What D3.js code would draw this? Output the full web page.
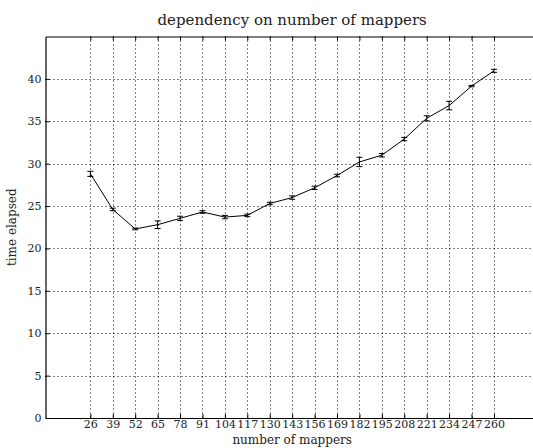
<!DOCTYPE html>
<html>
<head>
<meta charset="utf-8">
<script src="https://cdn.jsdelivr.net/npm/d3@7"></script>
<style>
  html, body { margin: 0; padding: 0; background: #fff; }
  svg { display: block; font-family: "DejaVu Serif", serif; }
</style>
</head>
<body>
<svg id="chart" width="533" height="448"></svg>
<script>
// ---- data ----
const mappers = [26, 39, 52, 65, 78, 91, 104, 117, 130, 143, 156, 169, 182, 195, 208, 221, 234, 247, 260];
const timeElapsed = [28.8, 24.6, 22.3, 22.8, 23.55, 24.3, 23.7, 23.9, 25.3, 26.0, 27.15, 28.6, 30.2, 31.0, 32.9, 35.35, 36.85, 39.15, 40.95];
const timeError = [0.3, 0.15, 0.1, 0.45, 0.25, 0.15, 0.2, 0.15, 0.15, 0.2, 0.2, 0.15, 0.55, 0.2, 0.2, 0.3, 0.5, 0.08, 0.18];
const yTicks = [0, 5, 10, 15, 20, 25, 30, 35, 40];
const xDomain = [0, 286];
const yDomain = [0, 45];
const title = "dependency on number of mappers";
const xLabel = "number of mappers";
const yLabel = "time elapsed";

// ---- layout ----
const svg = d3.select("#chart");
const pLeft = 45.5, pRight = 538.8, pTop = 36.5, pBottom = 418;
const x = d3.scaleLinear().domain(xDomain).range([pLeft, pRight]);
const y = d3.scaleLinear().domain(yDomain).range([pBottom, pTop]);

// grid
const grid = svg.append("g").attr("stroke", "#000").attr("stroke-width", 1)
  .attr("stroke-dasharray", "1,3");
grid.selectAll("line.gx").data(mappers).join("line")
  .attr("x1", d => Math.round(x(d)) + 0.5).attr("x2", d => Math.round(x(d)) + 0.5)
  .attr("y1", pTop).attr("y2", pBottom);
grid.selectAll("line.gy").data(yTicks.filter(d => d > 0)).join("line")
  .attr("y1", d => Math.round(y(d)) + 0.5).attr("y2", d => Math.round(y(d)) + 0.5)
  .attr("x1", pLeft).attr("x2", 533);

// axes (ticks inward)
const xAxisB = d3.axisBottom(x).tickValues(mappers).tickSizeInner(-4).tickSizeOuter(0).tickPadding(2);
const gB = svg.append("g").attr("transform", `translate(0,${pBottom})`).call(xAxisB);
const xAxisT = d3.axisTop(x).tickValues(mappers).tickSizeInner(-4).tickSizeOuter(0).tickFormat("");
const gT = svg.append("g").attr("transform", `translate(0,${pTop})`).call(xAxisT);
const yAxisL = d3.axisLeft(y).tickValues(yTicks).tickSizeInner(-4).tickSizeOuter(0).tickPadding(4);
const gL = svg.append("g").attr("transform", `translate(${pLeft},0)`).call(yAxisL);

[gB, gT, gL].forEach(g => {
  g.select(".domain").attr("stroke", "#000").attr("stroke-width", 1.2);
  g.selectAll(".tick line").attr("stroke", "#000").attr("stroke-width", 1);
  g.selectAll(".tick text").attr("font-family", "DejaVu Serif").attr("font-size", 11).attr("fill", "#222");
});
gB.selectAll(".tick text").attr("y", 2).attr("dy", "0.72em");

// line
svg.append("path")
  .datum(mappers.map((m, i) => [m, timeElapsed[i]]))
  .attr("fill", "none").attr("stroke", "#000").attr("stroke-width", 1)
  .attr("d", d3.line().x(d => x(d[0])).y(d => y(d[1])));

// error bars
const eb = svg.append("g").attr("stroke", "#000").attr("stroke-width", 1);
const cap = 3;
mappers.forEach((m, i) => {
  const cx = x(m), y1 = y(timeElapsed[i] - timeError[i]), y2 = y(timeElapsed[i] + timeError[i]);
  eb.append("line").attr("x1", cx).attr("x2", cx).attr("y1", y1).attr("y2", y2);
  eb.append("line").attr("x1", cx - cap).attr("x2", cx + cap).attr("y1", y1).attr("y2", y1);
  eb.append("line").attr("x1", cx - cap).attr("x2", cx + cap).attr("y1", y2).attr("y2", y2);
});

// titles
const midX = (pLeft + pRight) / 2;
svg.append("text").attr("x", midX).attr("y", 25).attr("text-anchor", "middle")
  .attr("font-size", 15).attr("fill", "#222").text(title);
svg.append("text").attr("x", midX).attr("y", 444).attr("text-anchor", "middle")
  .attr("font-size", 12).attr("fill", "#222").text(xLabel);
svg.append("text").attr("transform", `translate(16,${(pTop + pBottom) / 2}) rotate(-90)`)
  .attr("text-anchor", "middle").attr("font-size", 12).attr("fill", "#222").text(yLabel);
</script>
</body>
</html>
